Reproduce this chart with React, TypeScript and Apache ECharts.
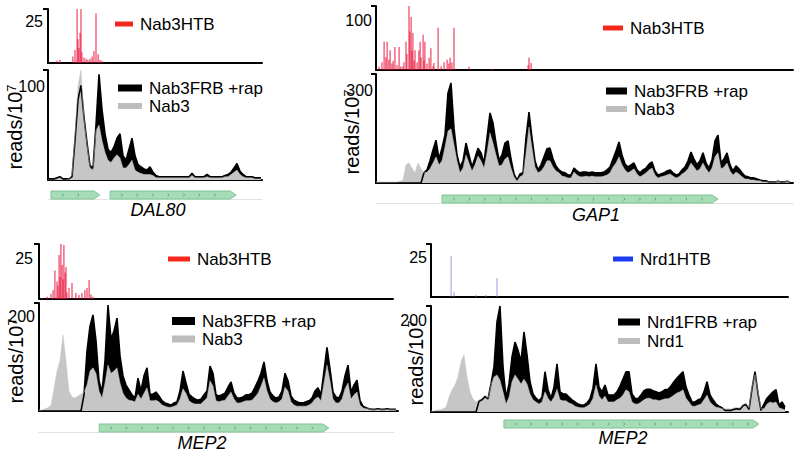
import React, { useEffect, useRef } from "react";
import * as echarts from "echarts";

// ---------- DATA (positions are in track bins; values in reads/10^7) ----------
// Panel A: DAL80
const dal80Ticks = [25, 100];
const dal80HtbPos = [3.0, 4.0, 8.3, 9.0, 9.7, 10.0, 10.3, 10.7, 11.0, 11.3, 12.0, 12.7, 13.3, 14.0, 14.7, 15.3, 16.0, 16.7, 17.3, 18.0];
const dal80HtbVal = [1, 1.5, 3, 6, 25, 11, 7, 14, 25, 5, 2.5, 2, 1.5, 2, 3, 5.5, 23, 4, 1.5, 1];
const dal80Frb = [
  1, 1, 1, 2, 3, 1, 1, 1, 3,
  36, 73, 86, 57, 34, 13, 11, 50, 96,
  64, 42, 28, 25, 30, 38, 42, 22, 18,
  28, 38, 22, 14, 12, 10, 9, 12, 7,
  4, 3, 3, 3, 3, 3, 3, 3, 3,
  3, 3, 3, 6, 3, 3, 3, 3, 5,
  3, 3, 3, 3, 3, 4, 5, 7, 11,
  15, 8, 5, 3, 3, 3, 2, 2, 2,
];
const dal80Nab3 = [
  0, 0, 0, 1, 2, 0, 0, 1, 5,
  41, 86, 100, 55, 32, 11, 9, 45, 50,
  36, 25, 18, 16, 20, 23, 20, 11, 11,
  14, 18, 9, 7, 6, 5, 5, 5, 4,
  2, 2, 2, 2, 2, 2, 2, 2, 2,
  2, 2, 2, 4, 2, 2, 2, 2, 3,
  2, 2, 2, 2, 2, 3, 3, 5, 7,
  9, 5, 3, 2, 2, 2, 1, 1, 1,
];
const dal80Genes = [[1, 17.3], [20.7, 62.7]];

// Panel B: GAP1
const gap1Ticks = [100, 300];
const gap1HtbPos = [1.0, 2.0, 2.7, 3.3, 3.7, 4.3, 4.7, 5.3, 5.7, 6.3, 7.0, 7.7, 8.3, 9.0, 9.3, 10.0, 10.3, 11.0, 11.3, 11.7, 12.0, 12.3, 12.7, 13.0, 13.7, 14.3, 14.7, 15.0, 15.7, 16.0, 16.3, 17.0, 17.7, 18.3, 19.0, 19.3, 20.7, 21.7, 22.7, 23.7, 24.3, 24.7, 25.3, 26.0, 31.0, 38.7, 50.7, 51.0, 51.7];
const gap1HtbVal = [5, 12, 44, 20, 44, 16, 31, 10, 14, 36, 8, 36, 6, 5, 12, 44, 25, 100, 60, 83, 30, 58, 15, 31, 12, 31, 44, 20, 55, 15, 44, 10, 19, 34, 6, 11, 66, 6, 12, 16, 10, 19, 12, 66, 5, 2, 8, 19, 11];
const gap1Frb = [
  0, 0, 0, 0, 0, 0, 0, 0, 0, 0,
  0, 0, 0, 0, 0, 0, 28, 36, 61, 91,
  118, 66, 96, 132, 248, 275, 151, 77, 44, 61,
  110, 77, 44, 69, 96, 83, 55, 124, 193, 165,
  110, 63, 77, 110, 116, 66, 25, 8, 25, 28,
  124, 195, 124, 61, 36, 50, 72, 94, 96, 66,
  47, 36, 30, 28, 22, 22, 41, 33, 28, 30,
  30, 28, 30, 28, 28, 28, 30, 36, 44, 66,
  88, 113, 77, 52, 44, 50, 55, 36, 28, 36,
  41, 52, 58, 33, 22, 25, 28, 33, 36, 28,
  22, 25, 36, 44, 61, 85, 66, 50, 61, 83,
  55, 41, 63, 116, 132, 55, 66, 83, 50, 33,
  47, 39, 28, 19, 17, 14, 14, 11, 8, 6,
  6, 3, 3, 3, 5, 3, 3, 5, 3,
];
const gap1Nab3 = [
  3, 3, 3, 3, 3, 3, 3, 3, 5, 8,
  50, 55, 41, 28, 55, 39, 28, 30, 39, 55,
  72, 50, 61, 99, 143, 149, 105, 61, 28, 41,
  77, 55, 33, 50, 74, 61, 41, 83, 138, 110,
  77, 47, 50, 66, 72, 41, 17, 6, 17, 22,
  83, 154, 96, 44, 28, 33, 44, 61, 61, 44,
  33, 28, 19, 17, 14, 14, 30, 22, 17, 17,
  19, 17, 19, 17, 17, 17, 19, 22, 28, 44,
  55, 72, 50, 36, 28, 33, 39, 25, 17, 22,
  28, 36, 41, 22, 14, 17, 19, 22, 25, 19,
  14, 17, 25, 30, 39, 55, 44, 33, 39, 55,
  39, 28, 41, 72, 83, 39, 44, 55, 33, 22,
  30, 25, 17, 11, 11, 8, 8, 6, 6, 3,
  3, 3, 3, 3, 5, 3, 3, 5, 3,
];
const gap1Genes = [[22, 114]];

// Panel C: MEP2 (Nab3)
const mep2Ticks = [25, 200];
const mep2HtbPos = [1.0, 2.7, 4.0, 4.7, 5.3, 6.0, 6.3, 6.7, 7.0, 7.3, 7.7, 8.0, 8.3, 8.7, 9.0, 9.3, 10.0, 11.0, 12.3, 13.3, 14.3, 15.3, 16.0, 16.7, 17.3, 18.0];
const mep2HtbVal = [0.5, 1, 2.3, 4, 13, 8, 6, 20, 10, 25, 15.5, 9, 24.5, 12, 14.5, 3, 5, 7.3, 2.7, 1.8, 2.7, 4, 5, 8.6, 2, 1];
const mep2Frb = [
  0, 0, 0, 0, 0, 0, 0, 0, 0, 0,
  0, 0, 0, 0, 0, 30, 111, 157, 178, 130,
  56, 35, 93, 196, 133, 148, 172, 102, 65, 48,
  39, 30, 24, 61, 37, 65, 80, 31, 31, 35,
  28, 19, 15, 13, 11, 15, 17, 37, 74, 52,
  31, 26, 22, 20, 22, 30, 37, 83, 70, 30,
  28, 30, 33, 44, 54, 33, 24, 24, 26, 30,
  30, 33, 44, 56, 70, 91, 56, 35, 28, 24,
  26, 37, 70, 56, 28, 20, 17, 15, 15, 17,
  19, 24, 37, 43, 30, 74, 118, 78, 35, 26,
  24, 37, 65, 85, 35, 48, 57, 19, 9, 6,
  4, 3, 3, 4, 3, 3, 4, 3, 3, 3,
];
const mep2Nab3 = [
  2, 2, 4, 6, 11, 41, 74, 93, 141, 93,
  37, 26, 24, 28, 31, 35, 48, 74, 80, 70,
  37, 24, 52, 85, 70, 74, 80, 52, 33, 24,
  20, 19, 17, 31, 22, 33, 43, 19, 19, 20,
  17, 11, 9, 7, 7, 9, 11, 22, 41, 33,
  19, 15, 13, 13, 13, 19, 24, 56, 46, 19,
  17, 19, 20, 28, 35, 22, 15, 15, 17, 19,
  19, 20, 26, 33, 46, 61, 37, 22, 17, 15,
  17, 22, 44, 37, 17, 11, 9, 9, 9, 9,
  11, 15, 22, 26, 19, 52, 85, 56, 22, 15,
  15, 22, 41, 52, 22, 30, 35, 11, 6, 4,
  4, 2, 2, 3, 2, 2, 3, 2, 2, 2,
];
const mep2Genes = [[20.3, 97.7]];

// Panel D: MEP2 (Nrd1)
const nrd1Ticks = [25, 200];
const nrd1HtbPos = [6.7, 7.7, 15.0, 18.3, 22.0];
const nrd1HtbVal = [19.3, 2.4, 1, 1, 9];
const nrd1Frb = [
  0, 0, 0, 0, 0, 0, 0, 0, 0, 0,
  0, 0, 0, 0, 0, 0, 20, 23, 29, 25,
  53, 85, 170, 200, 85, 26, 53, 104, 132, 117,
  95, 151, 108, 57, 34, 26, 21, 28, 76, 42,
  26, 47, 91, 38, 34, 34, 28, 23, 19, 15,
  13, 13, 17, 25, 45, 91, 47, 38, 51, 32,
  32, 32, 38, 49, 62, 76, 76, 34, 26, 25,
  32, 40, 43, 43, 40, 38, 36, 38, 42, 43,
  49, 57, 64, 70, 76, 47, 32, 19, 19, 23,
  25, 38, 57, 32, 23, 15, 11, 8, 3, 3,
  3, 5, 6, 5, 12, 14, 5, 44, 76, 35,
  3, 15, 26, 32, 38, 42, 13, 19, 9,
];
const nrd1Nrd1 = [
  2, 2, 4, 4, 6, 9, 28, 42, 51, 66,
  95, 108, 66, 38, 25, 19, 23, 26, 32, 26,
  51, 66, 70, 60, 38, 15, 28, 57, 70, 62,
  53, 62, 53, 34, 23, 19, 15, 19, 38, 26,
  19, 28, 43, 23, 21, 21, 17, 15, 11, 9,
  8, 8, 11, 15, 26, 51, 30, 23, 30, 19,
  19, 19, 23, 26, 32, 42, 38, 19, 15, 15,
  19, 23, 26, 26, 23, 23, 21, 23, 25, 25,
  28, 32, 36, 38, 42, 26, 19, 11, 11, 13,
  15, 23, 32, 19, 13, 9, 8, 6, 6, 6,
  6, 8, 9, 8, 15, 17, 8, 47, 70, 38,
  6, 6, 15, 19, 17, 19, 8, 6, 4,
];
const mep2bGenes = [[24.3, 109.3]];

// ---------- LAYOUT / STYLE ----------
const FONT = "'Liberation Sans', Arial, Helvetica, sans-serif";
const RED_BAR = "rgba(232,18,58,0.8)";
const BLUE_BAR = "rgba(120,110,215,0.6)";
const GRAY = "#c6c6c6";

const panels = [
  {
    htbName: "Nab3HTB", frbName: "Nab3FRB +rap", ctlName: "Nab3", gene: "DAL80",
    ticks: dal80Ticks, htbPos: dal80HtbPos, htbVal: dal80HtbVal, frb: dal80Frb, ctl: dal80Nab3, genes: dal80Genes,
    barColor: RED_BAR, swatch: "#f5281e",
    topBox: { left: 48, top: 9, width: 214, height: 54 }, mainBox: { left: 48, top: 70, width: 214, height: 110 },
    geneBox: { left: 48, top: 191, width: 214, height: 8 }, geneLine: true,
    xMaxTop: 71.33, xMax: 71.33, labelPad: [4, 8], labelMargin: [5, 3],
    yName: [15, 127], geneText: [158, 210],
    leg1: { x: 115, y: 24, w: 18, h: 5 }, leg2: { x: 118, y: 88, w: 24, h: 7 }, leg3: { x: 118, y: 106, w: 24, h: 6 },
  },
  {
    htbName: "Nab3HTB", frbName: "Nab3FRB +rap", ctlName: "Nab3", gene: "GAP1",
    ticks: gap1Ticks, htbPos: gap1HtbPos, htbVal: gap1HtbVal, frb: gap1Frb, ctl: gap1Nab3, genes: gap1Genes,
    barColor: RED_BAR, swatch: "#f5281e",
    topBox: { left: 376, top: 6, width: 417, height: 64 }, mainBox: { left: 376, top: 74, width: 417, height: 109 },
    geneBox: { left: 376, top: 195, width: 417, height: 8 }, geneLine: true,
    xMaxTop: 139, xMax: 139, labelPad: [6, 8], labelMargin: [4, 3],
    yName: [352, 132], geneText: [596, 215],
    leg1: { x: 603, y: 28, w: 20, h: 5 }, leg2: { x: 606, y: 91, w: 21, h: 7 }, leg3: { x: 606, y: 109, w: 21, h: 6 },
  },
  {
    htbName: "Nab3HTB", frbName: "Nab3FRB +rap", ctlName: "Nab3", gene: "MEP2",
    ticks: mep2Ticks, htbPos: mep2HtbPos, htbVal: mep2HtbVal, frb: mep2Frb, ctl: mep2Nab3, genes: mep2Genes,
    barColor: RED_BAR, swatch: "#f5281e",
    topBox: { left: 39, top: 244, width: 354, height: 55 }, mainBox: { left: 39, top: 303, width: 359, height: 108 },
    geneBox: { left: 39, top: 424, width: 355, height: 8 }, geneLine: true,
    xMaxTop: 118, xMax: 119.67, labelPad: [6, 5], labelMargin: [6, 4],
    yName: [16, 361], geneText: [202, 443],
    leg1: { x: 168, y: 259, w: 22, h: 5 }, leg2: { x: 172, y: 321, w: 23, h: 8 }, leg3: { x: 172, y: 339, w: 23, h: 7 },
  },
  {
    htbName: "Nrd1HTB", frbName: "Nrd1FRB +rap", ctlName: "Nrd1", gene: "MEP2",
    ticks: nrd1Ticks, htbPos: nrd1HtbPos, htbVal: nrd1HtbVal, frb: nrd1Frb, ctl: nrd1Nrd1, genes: mep2bGenes,
    barColor: BLUE_BAR, swatch: "#1c3cf0",
    topBox: { left: 431, top: 244, width: 357, height: 53 }, mainBox: { left: 431, top: 306, width: 357, height: 106 },
    geneBox: { left: 431, top: 420, width: 357, height: 8 }, geneLine: false,
    xMaxTop: 119, xMax: 119, labelPad: [5, 6], labelMargin: [4, 4],
    yName: [416, 363], geneText: [623, 438],
    leg1: { x: 613, y: 259, w: 20, h: 5 }, leg2: { x: 618, y: 322, w: 22, h: 7 }, leg3: { x: 618, y: 341, w: 22, h: 6 },
  },
];

function geneRenderItem(params: any, api: any) {
  const s = api.value(0);
  const e = api.value(1);
  const a = api.coord([s, 1]);
  const b = api.coord([e, 0]);
  const x0 = a[0], x1 = b[0], y0 = a[1], y1 = b[1];
  const ym = (y0 + y1) / 2;
  const tip = 6;
  const children: any[] = [
    {
      type: "polygon",
      shape: { points: [[x0, y0], [x1 - tip, y0], [x1, ym], [x1 - tip, y1], [x0, y1]] },
      style: { fill: "#a7ddb6", stroke: "#7cc593", lineWidth: 1 },
    },
  ];
  for (let x = x0 + 12; x < x1 - 8; x += 15.5) {
    children.push({
      type: "polyline",
      shape: { points: [[x - 1, ym - 1.5], [x + 0.5, ym], [x - 1, ym + 1.5]] },
      style: { stroke: "#4e9a66", lineWidth: 0.8, fill: null },
    });
  }
  return { type: "group", children };
}

function buildOption() {
  const grid: any[] = [];
  const xAxis: any[] = [];
  const yAxis: any[] = [];
  const series: any[] = [];
  const graphic: any[] = [];

  panels.forEach((p) => {
    const gTop = grid.length;
    grid.push({ ...p.topBox, containLabel: false });
    grid.push({ ...p.mainBox, containLabel: false });
    grid.push({ ...p.geneBox, containLabel: false });

    [0, 1].forEach((k) => {
      xAxis.push({
        type: "value", gridIndex: gTop + k, min: 0, max: k === 0 ? p.xMaxTop : p.xMax,
        axisLine: { show: true, onZero: false, lineStyle: { color: "#000", width: 2 } },
        axisTick: { show: false }, axisLabel: { show: false }, splitLine: { show: false },
      });
      const m = p.ticks[k];
      yAxis.push({
        type: "value", gridIndex: gTop + k, min: 0, max: m,
        axisLine: { show: true, lineStyle: { color: "#000", width: 2 } },
        axisTick: { show: true, customValues: [m], length: 5, lineStyle: { color: "#000", width: 2 } },
        axisLabel: {
          show: true, customValues: [m], color: "#000", fontSize: 16, fontFamily: FONT,
          verticalAlign: "top", margin: p.labelMargin[k], padding: [p.labelPad[k], 0, 0, 0],
        },
        splitLine: { show: false },
      });
    });
    xAxis.push({
      type: "value", gridIndex: gTop + 2, min: 0, max: p.xMax,
      axisLine: { show: p.geneLine, onZero: false, lineStyle: { color: "#e2e2e2", width: 1 } },
      axisTick: { show: false }, axisLabel: { show: false }, splitLine: { show: false },
    });
    yAxis.push({ type: "value", gridIndex: gTop + 2, min: 0, max: 1, show: false });

    series.push({
      name: p.htbName, type: "bar", xAxisIndex: gTop, yAxisIndex: gTop,
      data: p.htbPos.map((x, i) => [x, p.htbVal[i]]),
      barWidth: 1.2, itemStyle: { color: p.barColor }, silent: true,
    });
    series.push({
      name: p.frbName, type: "line", xAxisIndex: gTop + 1, yAxisIndex: gTop + 1,
      data: p.frb.map((v, i) => [i, v]), showSymbol: false, symbol: "none",
      lineStyle: { color: "#000", width: 1.6 }, areaStyle: { color: "#000", opacity: 1 }, silent: true,
    });
    series.push({
      name: p.ctlName, type: "line", xAxisIndex: gTop + 1, yAxisIndex: gTop + 1,
      data: p.ctl.map((v, i) => [i, v]), showSymbol: false, symbol: "none",
      lineStyle: { color: GRAY, width: 0.5 }, areaStyle: { color: GRAY, opacity: 1 }, silent: true,
    });
    series.push({
      name: p.gene, type: "custom", xAxisIndex: gTop + 2, yAxisIndex: gTop + 2,
      renderItem: geneRenderItem, data: p.genes, silent: true,
    });

    const legs = [
      { b: p.leg1, c: p.swatch, t: p.htbName },
      { b: p.leg2, c: "#000", t: p.frbName },
      { b: p.leg3, c: "#bdbdbd", t: p.ctlName },
    ];
    legs.forEach((l) => {
      graphic.push({ type: "rect", shape: { x: l.b.x, y: l.b.y - l.b.h / 2, width: l.b.w, height: l.b.h }, style: { fill: l.c } });
      graphic.push({
        type: "text", x: l.b.x + l.b.w + 7, y: l.b.y,
        style: { text: l.t, fill: "#000", font: `17px ${FONT}`, align: "left", verticalAlign: "middle" },
      });
    });
    graphic.push({
      type: "text", x: p.yName[0], y: p.yName[1], rotation: Math.PI / 2,
      style: {
        text: "{b|reads/10}{s|7}", align: "center", verticalAlign: "middle", fill: "#000",
        rich: {
          b: { fontSize: 20, fontFamily: FONT, fill: "#000", lineHeight: 21 },
          s: { fontSize: 13, fontFamily: FONT, fill: "#000", verticalAlign: "top", lineHeight: 13 },
        },
      },
    });
    graphic.push({
      type: "text", x: p.geneText[0], y: p.geneText[1],
      style: { text: p.gene, fill: "#000", font: `italic 18px ${FONT}`, align: "center", verticalAlign: "middle" },
    });
  });

  return { animation: false, backgroundColor: "#fff", grid, xAxis, yAxis, series, graphic };
}

export default function App() {
  const ref = useRef<HTMLDivElement>(null);
  useEffect(() => {
    if (!ref.current) return;
    const chart = echarts.init(ref.current, undefined, { renderer: "svg" });
    chart.setOption(buildOption() as any);
    return () => chart.dispose();
  }, []);
  return (
    <div
      ref={ref}
      style={{ position: "fixed", left: 0, top: 0, width: 800, height: 455, background: "#fff" }}
    />
  );
}
